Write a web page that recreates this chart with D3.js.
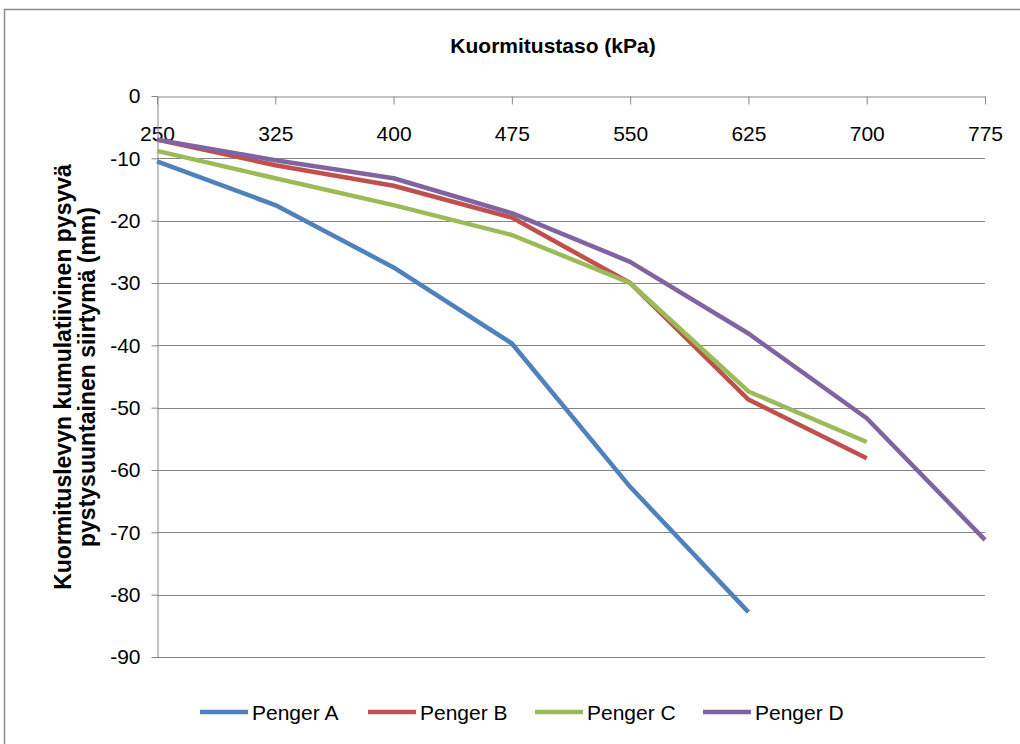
<!DOCTYPE html>
<html>
<head>
<meta charset="utf-8">
<script src="https://cdn.jsdelivr.net/npm/d3@7/dist/d3.min.js"></script>
<style>
  html, body { margin: 0; padding: 0; background: #fff; }
  svg { display: block; font-family: "Liberation Sans", Arial, sans-serif; }
</style>
</head>
<body>
<svg id="chart" width="1020" height="744"></svg>
<script>
// Load levels (kPa) on the category axis
const loadLevels = [250, 325, 400, 475, 550, 625, 700, 775];

// Cumulative permanent vertical displacement (mm) for each embankment
const pengerA = [-10.5, -17.5, -27.5, -39.7, -62.7, -82.8];
const pengerB = [-7.0, -11.1, -14.4, -19.5, -30.0, -48.7, -58.1];
const pengerC = [-8.8, -13.2, -17.5, -22.3, -30.0, -47.4, -55.5];
const pengerD = [-7.0, -10.3, -13.2, -18.8, -26.6, -38.1, -51.7, -71.2];

const seriesNames = ["Penger A", "Penger B", "Penger C", "Penger D"];
const seriesColors = ["#4F81BD", "#C0504D", "#9BBB59", "#8064A2"];
const seriesValues = [pengerA, pengerB, pengerC, pengerD];

const yTicks = [0, -10, -20, -30, -40, -50, -60, -70, -80, -90];

const svg = d3.select("#chart");
const axisColor = "#868686";

// Outer chart frame
svg.append("rect")
  .attr("x", 4.5).attr("y", 9.5)
  .attr("width", 1040).attr("height", 760)
  .attr("fill", "none").attr("stroke", "#8c8c8c").attr("stroke-width", 1.5);

const plot = { left: 157, right: 985, top: 96, bottom: 657 };

const x = d3.scalePoint().domain(loadLevels).range([plot.left, plot.right]);
const y = d3.scaleLinear().domain([-90, 0]).range([plot.bottom, plot.top]);

// Horizontal gridlines
svg.append("g")
  .selectAll("line")
  .data(yTicks.filter(d => d !== 0))
  .join("line")
  .attr("x1", plot.left).attr("x2", plot.right)
  .attr("y1", d => Math.round(y(d)) + 0.5).attr("y2", d => Math.round(y(d)) + 0.5)
  .attr("stroke", axisColor).attr("stroke-width", 1);

// Category axis along the zero line, labels underneath
const xAxis = svg.append("g")
  .attr("transform", `translate(0,${Math.round(y(0)) + 0.5})`)
  .call(d3.axisBottom(x).tickSize(8).tickSizeOuter(0).tickPadding(22));
xAxis.selectAll("text").attr("font-size", 21).attr("fill", "#000")
  .style("font-family", "'Liberation Sans', Arial, sans-serif");
xAxis.selectAll("line, path").attr("stroke", axisColor);

// Value axis
const yAxis = svg.append("g")
  .attr("transform", `translate(${plot.left + 0.5},0)`)
  .call(d3.axisLeft(y).tickValues(yTicks).tickFormat(d => String(d))
    .tickSize(6).tickSizeOuter(0).tickPadding(11));
yAxis.selectAll("text").attr("font-size", 21).attr("fill", "#000")
  .style("font-family", "'Liberation Sans', Arial, sans-serif");
yAxis.selectAll("line, path").attr("stroke", axisColor);

// Series lines
const line = d3.line()
  .x((d, i) => x(loadLevels[i]))
  .y(d => y(d));

svg.append("g")
  .selectAll("path")
  .data(seriesValues)
  .join("path")
  .attr("d", d => line(d))
  .attr("fill", "none")
  .attr("stroke", (d, i) => seriesColors[i])
  .attr("stroke-width", 4.5)
  .attr("stroke-linejoin", "round");

// Chart title
svg.append("text")
  .attr("x", 553).attr("y", 53)
  .attr("text-anchor", "middle")
  .attr("font-size", 21).attr("font-weight", "bold")
  .text("Kuormitustaso  (kPa)");

// Value axis title, two lines
const yTitle = svg.append("text")
  .attr("transform", "translate(0,377) rotate(-90)")
  .attr("text-anchor", "middle")
  .attr("font-size", 23).attr("font-weight", "bold");
yTitle.append("tspan").attr("x", 0).attr("y", 71).text("Kuormituslevyn kumulatiivinen pysyvä");
yTitle.append("tspan").attr("x", 0).attr("y", 95).text("pystysuuntainen siirtymä (mm)");

// Legend
const legendX = [200, 368, 535, 703];
const legend = svg.append("g")
  .selectAll("g")
  .data(seriesNames)
  .join("g")
  .attr("transform", (d, i) => `translate(${legendX[i]},712)`);
legend.append("line")
  .attr("x1", 0).attr("x2", 48).attr("y1", 0).attr("y2", 0)
  .attr("stroke", (d, i) => seriesColors[i]).attr("stroke-width", 4.5);
legend.append("text")
  .attr("x", 52).attr("y", 7.5)
  .attr("font-size", 21)
  .text(d => d);
</script>
</body>
</html>
